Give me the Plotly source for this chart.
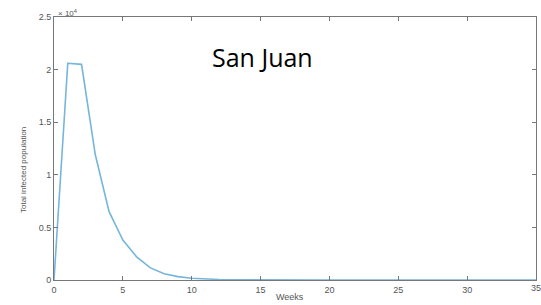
import plotly.graph_objects as go

weeks = list(range(0, 36))
infected = [0, 20600, 20500, 11900, 6500, 3800, 2200, 1150, 600, 320, 170, 90, 50, 28, 15, 8,
            5, 3, 2, 1, 1, 0, 0, 0, 0, 0, 0, 0, 0, 0, 0, 0, 0, 0, 0, 0]
x_ticks = [0, 5, 10, 15, 20, 25, 30, 35]
y_ticks = [0, 5000, 10000, 15000, 20000, 25000]
y_ticktext = ["0", "0.5", "1", "1.5", "2", "2.5"]

L, R, T, B = 54, 5, 17, 25
W, H = 541, 305
pw = W - L - R
ph = H - T - B


def px(x):
    return (x - L) / pw


def py(y):
    return 1 - (y - T) / ph


fig = go.Figure()
fig.add_trace(go.Scatter(x=weeks, y=infected, mode="lines",
                         line=dict(color="#76b6da", width=1.6), showlegend=False))

axis_common = dict(showgrid=False, zeroline=False, showline=True, linecolor="#777",
                   linewidth=1, mirror="ticks", ticks="inside", ticklen=4, automargin=False,
                   tickcolor="#777", tickfont=dict(family="Liberation Sans", size=9, color="#555"))

fig.update_layout(
    width=W, height=H,
    margin=dict(l=L, r=R, t=T, b=B),
    paper_bgcolor="white", plot_bgcolor="white",
    xaxis=dict(range=[0, 35], tickvals=x_ticks, ticklabelstandoff=1, **axis_common),
    yaxis=dict(range=[0, 25000], tickvals=y_ticks, ticktext=y_ticktext, **axis_common),
    annotations=[
        dict(text="San Juan", x=px(262), y=py(57), xref="paper", yref="paper", showarrow=False,
             xanchor="center", yanchor="middle",
             font=dict(family="Open Sans", size=25, color="black")),
        dict(text="× 10<sup>4</sup>", x=px(56), y=py(13), xref="paper", yref="paper",
             xanchor="left", yanchor="middle", showarrow=False,
             font=dict(family="Liberation Sans", size=8, color="#555")),
        dict(text="35", x=35, y=py(288), xref="x", yref="paper",
             xanchor="center", yanchor="middle", showarrow=False,
             font=dict(family="Liberation Sans", size=9, color="#555")),
        dict(text="Weeks", x=px(290), y=py(297), xref="paper", yref="paper",
             xanchor="center", yanchor="middle", showarrow=False,
             font=dict(family="Liberation Sans", size=9, color="#555")),
        dict(text="Total infected population", x=px(23), y=py(170), xref="paper", yref="paper",
             xanchor="center", yanchor="middle", textangle=-90, showarrow=False,
             font=dict(family="Liberation Sans", size=8, color="#555")),
    ],
)

fig.write_html("out.html", config={"displayModeBar": False},
               post_script="document.body.style.margin='0';document.body.style.overflow='hidden';")
